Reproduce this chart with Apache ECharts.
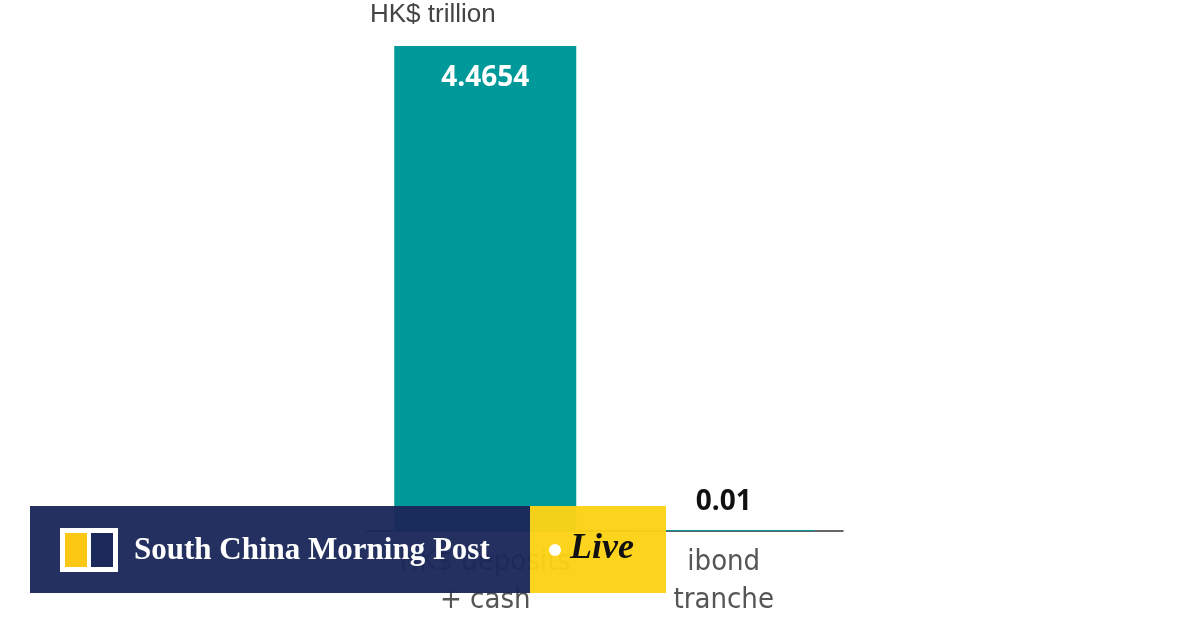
<!DOCTYPE html><html><head><meta charset="utf-8"><style>html,body{margin:0;background:#fff}#c{width:1200px;height:630px}</style>
<script src="https://cdn.jsdelivr.net/npm/echarts@6/dist/echarts.min.js"></script></head><body><div id="c"></div><script>
const categories=['HK$ deposits\n+ cash','ibond\ntranche'];
const values=[4.4654,0.01];
const valueLabels=['4.4654','0.01'];
const unit='HK$ trillion';
const ch=echarts.init(document.getElementById('c'));
ch.setOption({
 animation:false,
 grid:{left:366,right:357,top:46,bottom:99},
 xAxis:{type:'category',data:categories,axisTick:{show:false},axisLine:{lineStyle:{color:'#333',width:1.5}},
  axisLabel:{color:'#555',fontSize:29,lineHeight:38,margin:12,fontFamily:'Liberation Sans Narrow, DejaVu Sans Condensed, sans-serif'}},
 yAxis:{type:'value',min:0,max:4.4654,show:false,splitLine:{show:false}},
 series:[{type:'bar',barWidth:182,data:values.map((v,i)=>({value:v,itemStyle:{color:'#009999'},
   label:{show:true,position:i===0?'insideTop':'top',distance:i===0?18:14,formatter:valueLabels[i],color:i===0?'#fff':'#111',fontSize:28,fontWeight:'bold',fontFamily:'Open Sans, sans-serif'}}))}],
 graphic:[
  {type:'text',left:'center',top:0,style:{text:unit,x:0,fill:'#444',fontSize:26,fontFamily:'Liberation Sans Narrow, sans-serif'},left:370,top:2},
  {type:'rect',shape:{x:30,y:506,width:500,height:87},style:{fill:'rgba(27,40,90,0.96)'},z:100},
  {type:'rect',shape:{x:530,y:506,width:136,height:87},style:{fill:'rgba(253,210,20,0.96)'},z:100},
  {type:'rect',shape:{x:60,y:528,width:58,height:44},style:{fill:'#fff'},z:101},
  {type:'rect',shape:{x:65,y:533,width:22,height:34},style:{fill:'#fcc814'},z:102},
  {type:'rect',shape:{x:91,y:533,width:22,height:34},style:{fill:'#1b285a'},z:102},
  {type:'text',z:102,style:{x:134,y:551,text:'South China Morning Post',fill:'#fff',fontSize:31,fontWeight:'bold',fontFamily:'Liberation Serif, serif',verticalAlign:'middle'}},
  {type:'circle',z:102,shape:{cx:555,cy:550,r:6},style:{fill:'#fff'}},
  {type:'text',z:102,style:{x:570,y:549,text:'Live',fill:'#111',fontSize:36,fontWeight:'bold',fontStyle:'italic',fontFamily:'Liberation Serif, serif',verticalAlign:'middle'}}
 ]
});
</script></body></html>
